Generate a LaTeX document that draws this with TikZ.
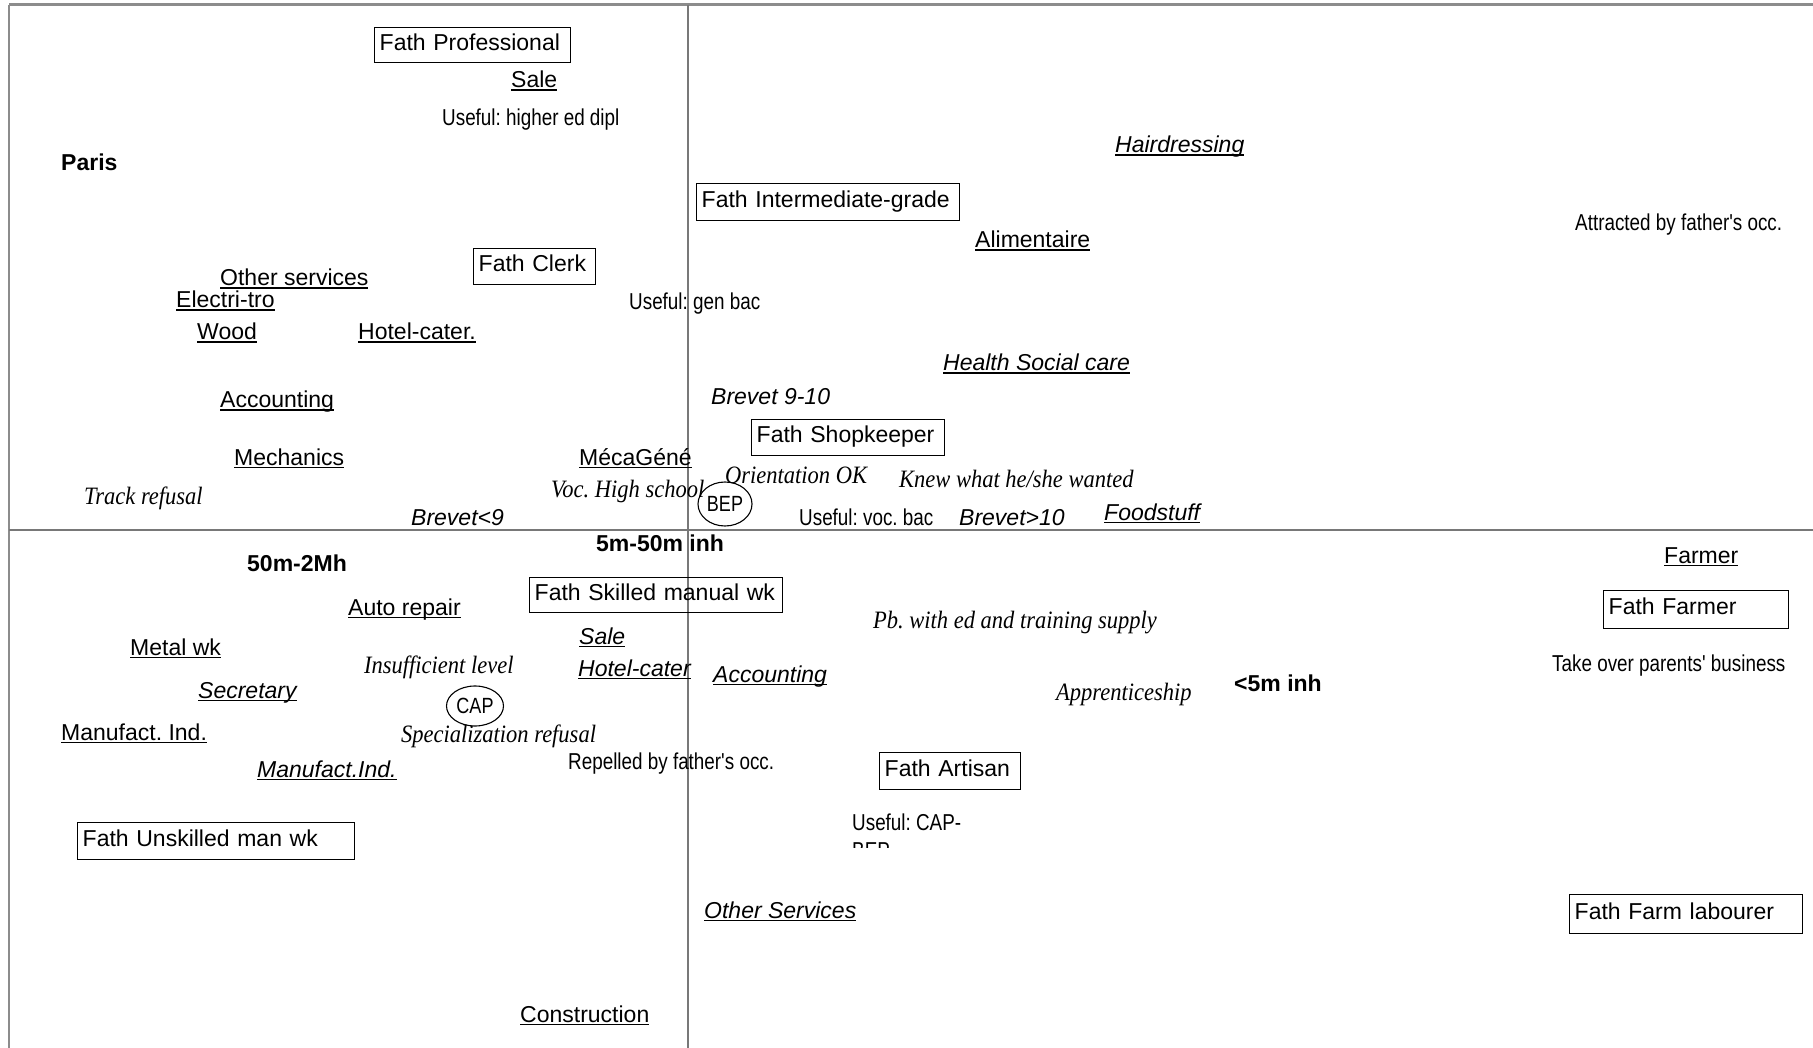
\documentclass[tikz,border=0pt]{standalone}
\usepackage{fontspec}
\setsansfont{Liberation Sans}
\newfontfamily\narrowfont{Liberation Sans}[FakeStretch=0.82]
\newfontfamily\handfont{Liberation Serif}[FakeStretch=0.9]
\usepackage{tikz}
\usetikzlibrary{shapes.geometric}
\definecolor{axisgray}{RGB}{120,120,120}
\definecolor{framegray}{RGB}{140,140,140}
\frenchspacing
% underline at a fixed depth, as in the word processor
\newcommand{\ulbl}[1]{\setbox0\hbox{#1}\rlap{\rule[-3.2pt]{\wd0}{1.7pt}}\box0}

\begin{document}
\begin{tikzpicture}[x=1pt,y=-1pt,
  lbl/.style={anchor=base west, inner sep=0pt, font=\sffamily\fontsize{23}{27}\selectfont},
  itlbl/.style={lbl, font=\sffamily\itshape\fontsize{23}{27}\selectfont},
  bflbl/.style={lbl, font=\sffamily\bfseries\fontsize{23}{27}\selectfont},
  narlbl/.style={lbl, font=\narrowfont\fontsize{23}{27}\selectfont},
  scrlbl/.style={lbl, font=\handfont\itshape\fontsize{25}{29}\selectfont},
  fathbox/.style={draw, line width=1.4pt, anchor=north west, inner xsep=5pt, inner ysep=0pt,
    text width=#1, text height=16pt, text depth=6pt, minimum height=36pt, align=left,
    font=\sffamily\fontsize{23}{27}\selectfont},
  dipl/.style={draw, ellipse, inner sep=0pt, line width=1.1pt, font=\narrowfont\fontsize{22}{26}\selectfont}]
\useasboundingbox (0,0) rectangle (1813,1048);

% Frame and axes
\draw[framegray, line width=3pt] (9,5) -- (1813,5);
\draw[framegray, line width=2.5pt] (9,5) -- (9,1048);
\draw[axisgray, line width=1.2pt] (688,5) -- (688,1048);
\draw[axisgray, line width=2pt] (9,529.5) -- (1813,529.5);

% Father's occupation
\node[fathbox=186pt, minimum height=35pt] (fprof) at (374,27) {Fath Professional};
\node[fathbox=112pt] (fclerk) at (473,248) {Fath Clerk};
\node[fathbox=253pt, minimum height=37pt] (finter) at (696,183) {Fath Intermediate-grade};
\node[fathbox=183pt] (fshop) at (751,419) {Fath Shopkeeper};
\node[fathbox=243pt, minimum height=35pt] (fskill) at (529,577) {Fath Skilled manual wk};
\node[fathbox=175pt, minimum height=38pt] (ffarmer) at (1603,590) {Fath Farmer};
\node[fathbox=267pt, minimum height=37pt] (funsk) at (77,822) {Fath Unskilled man wk};
\node[fathbox=131pt, minimum height=37pt] (fart) at (879,752) {Fath Artisan};
\node[fathbox=223pt, minimum height=39pt] (flab) at (1569,894) {Fath Farm labourer};

% Specialities
\node[lbl] (sale1) at (511,88) {\ulbl{Sale}};
\node[lbl] (othsvc1) at (220,286) {\ulbl{Other services}};
\node[lbl] (elec) at (176,308) {\ulbl{Electri-tro}};
\node[lbl] (wood) at (197,340) {\ulbl{Wood}};
\node[lbl] (hotel1) at (358,340) {\ulbl{Hotel-cater.}};
\node[lbl] (alim) at (975,248) {\ulbl{Alimentaire}};
\node[lbl] (acc1) at (220,408) {\ulbl{Accounting}};
\node[lbl] (mech) at (234,465) {\ulbl{Mechanics}};
\node[lbl] (meca) at (579,465) {\ulbl{MécaGéné}};
\node[lbl] (auto) at (348,615) {\ulbl{Auto repair}};
\node[lbl] (metal) at (130,655) {\ulbl{Metal wk}};
\node[lbl] (manuf1) at (61,740) {\ulbl{Manufact. Ind.}};
\node[lbl] (constr) at (520,1022) {\ulbl{Construction}};
\node[lbl] (farmer) at (1664,563) {\ulbl{Farmer}};

\node[itlbl] (hair) at (1115,153) {\ulbl{Hairdressing}};
\node[itlbl] (health) at (943,371) {\ulbl{Health Social care}};
\node[itlbl] (food) at (1104,520) {\ulbl{Foodstuff}};
\node[itlbl] (sale2) at (579,644) {\ulbl{Sale}};
\node[itlbl] (hotel2) at (578,676) {\ulbl{Hotel-cater}};
\node[itlbl] (secr) at (198,698) {\ulbl{Secretary}};
\node[itlbl] (acc2) at (713,682) {\ulbl{Accounting}};
\node[itlbl] (manuf2) at (257,777) {\ulbl{Manufact.Ind.}};
\node[itlbl] (othsvc2) at (704,918) {\ulbl{Other Services}};

% Brevet marks
\node[itlbl] (brev910) at (711,405) {Brevet 9-10};
\node[itlbl] (brev9) at (411,525) {Brevet<9};
\node[itlbl] (brev10) at (959,525) {Brevet>10};

% Town size
\node[bflbl] (paris) at (61,171) {Paris};
\node[bflbl] (mid) at (596,551) {5m-50m inh};
\node[bflbl] (big) at (247,571) {50m-2Mh};
\node[bflbl] (small) at (1234,691) {<5m inh};

% Opinions
\node[narlbl] (usehigh) at (442,126) {Useful: higher ed dipl};
\node[narlbl] (usegen) at (629,310) {Useful: gen bac};
\node[narlbl] (attr) at (1575,231) {Attracted by father's occ.};
\node[narlbl] (usevoc) at (799,525) {Useful: voc. bac};
\node[narlbl] (take) at (1552,671) {Take over parents' business};
\node[narlbl] (repel) at (568,769) {Repelled by father's occ.};
\begin{scope}
\clip (840,800) rectangle (1000,847);
\node[narlbl] (usecap) at (852,830) {Useful: CAP-};
\node[narlbl] (usecapb) at (852,858) {BEP};
\end{scope}

% Orientation
\node[scrlbl] (track) at (84,504) {Track refusal};
\node[scrlbl] (voc) at (551,497) {Voc. High school};
\node[scrlbl] (orient) at (725,483) {Orientation OK};
\node[scrlbl] (knew) at (899,487) {Knew what he/she wanted};
\node[scrlbl] (pb) at (873,628) {Pb. with ed and training supply};
\node[scrlbl] (insuf) at (364,673) {Insufficient level};
\node[scrlbl] (appr) at (1056,700) {Apprenticeship};
\node[scrlbl] (spec) at (401,742) {Specialization refusal};

% Diplomas
\node[dipl, minimum width=54pt, minimum height=44pt] (bep) at (725,504) {BEP};
\node[dipl, minimum width=57pt, minimum height=40pt] (cap) at (475,706) {CAP};
\end{tikzpicture}
\end{document}
